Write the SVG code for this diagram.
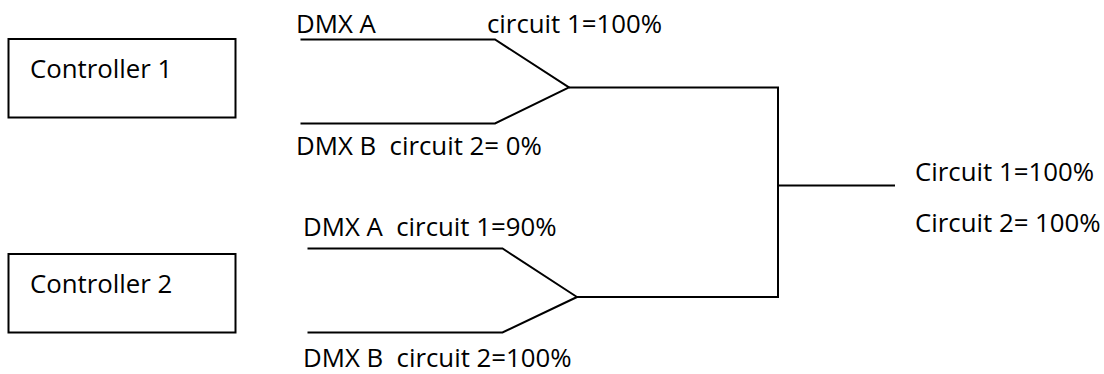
<svg xmlns="http://www.w3.org/2000/svg" width="1104" height="374" viewBox="0 0 1104 374">
<style>
.box{fill:#fff;stroke:#000;stroke-width:2}
.ln{fill:none;stroke:#000;stroke-width:2;stroke-linejoin:miter}
text{font-family:"Open Sans","Noto Sans",sans-serif;font-size:25.8px;fill:#000;white-space:pre}
</style>
<rect width="1104" height="374" fill="#fff"/>
<g id="controller1">
<rect class="box" x="8.5" y="39" width="227" height="78.5"/>
<text x="30" y="78">Controller 1</text>
</g>
<g id="controller2">
<rect class="box" x="8.5" y="254" width="227" height="78.5"/>
<text x="30" y="292.5">Controller 2</text>
</g>
<g id="connectors">
<path class="ln" d="M300.5 39.5 H495 L569 87.5 L495 123.5 H300.5"/>
<path class="ln" d="M569 87.5 H778 V297 H577"/>
<path class="ln" d="M307.5 248.5 H502.5 L577 297 L502.5 332.5 H307.5"/>
<path class="ln" d="M778 185.5 H895"/>
</g>
<g id="labels">
<text x="296" y="33" xml:space="preserve">DMX A</text>
<text x="487" y="33" xml:space="preserve">circuit 1=100%</text>
<text x="296" y="155" xml:space="preserve">DMX B  circuit 2= 0%</text>
<text x="303" y="236" xml:space="preserve">DMX A  circuit 1=90%</text>
<text x="303" y="367" xml:space="preserve">DMX B  circuit 2=100%</text>
<text x="915" y="181" xml:space="preserve">Circuit 1=100%</text>
<text x="915" y="231.5" xml:space="preserve">Circuit 2= 100%</text>
</g>
</svg>
